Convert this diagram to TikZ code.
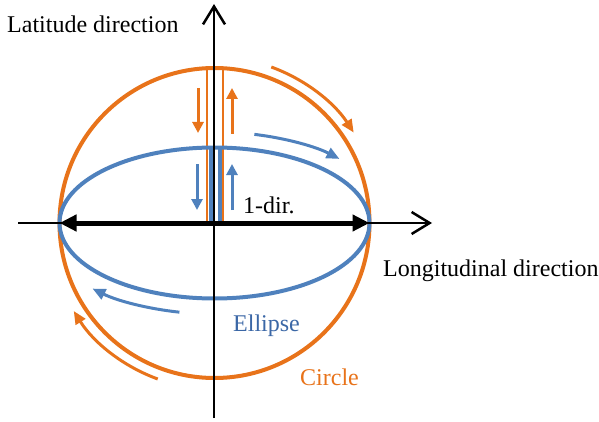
\documentclass[tikz,border=0pt]{standalone}
\usepackage{fontspec}
\newfontfamily\tnr{Liberation Serif}
\usetikzlibrary{arrows.meta}
\definecolor{orng}{HTML}{E8731A}
\definecolor{blu}{HTML}{4F81BD}
\definecolor{blutxt}{HTML}{3B67A6}
\tikzset{
  lbl/.style={anchor=base west, inner sep=0pt, font=\tnr\fontsize{24}{28}\selectfont},
  axisline/.style={line width=2.5pt, -{Straight Barb[length=18pt,width=22pt,line width=2.5pt]}},
  thinv/.style={line width=1.5pt},
  smallarr/.style={line width=3pt, -{Triangle[length=11pt,width=11pt]}},
  curvarr/.style={line width=3pt, -{Triangle[length=13pt,width=11pt]}},
}
\begin{document}
\begin{tikzpicture}[x=1pt,y=1pt]
\useasboundingbox (0,0) rectangle (599,421);
\coordinate (C) at (214.5,198);
% thin vertical lines
\coordinate (o1b) at (207,198); \coordinate (o1t) at (207,352.8);
\coordinate (o2b) at (223,198); \coordinate (o2t) at (223,352.8);
\coordinate (b1b) at (210,198); \coordinate (b1t) at (210,273.4);
\coordinate (b2b) at (212,198); \coordinate (b2t) at (212,273.4);
\coordinate (b3b) at (219,198); \coordinate (b3t) at (219,273.4);
\coordinate (b4b) at (221,198); \coordinate (b4t) at (221,273.4);
\draw[thinv, orng] (o1b) -- (o1t);
\draw[thinv, orng] (o2b) -- (o2t);
\draw[thinv, blu] (b1b) -- (b1t);
\draw[thinv, blu] (b2b) -- (b2t);
\draw[thinv, blu] (b3b) -- (b3t);
\draw[thinv, blu] (b4b) -- (b4t);
% circle and ellipse
\draw[orng, line width=4pt] (C) circle[radius=155];
\draw[blu, line width=4pt] (C) ellipse[x radius=155, y radius=75.5];
% axes
\coordinate (hx0) at (18,198); \coordinate (hx1) at (432,198);
\coordinate (vy0) at (214,3); \coordinate (vy1) at (214,417);
\draw[axisline] (hx0) -- (hx1);
\draw[axisline] (vy0) -- (vy1);
% double arrow
\coordinate (dl) at (59.5,198); \coordinate (dr) at (369.5,198);
\draw[line width=5pt, {Triangle[length=17pt,width=16pt]}-{Triangle[length=17pt,width=16pt]}] (dl) -- (dr);
% small straight arrows
\coordinate (oa1) at (198,333); \coordinate (oa2) at (198,288);
\coordinate (oa3) at (232,287); \coordinate (oa4) at (232,333);
\coordinate (ba1) at (197,257); \coordinate (ba2) at (197,211);
\coordinate (ba3) at (232,211); \coordinate (ba4) at (232,257);
\draw[smallarr, orng] (oa1) -- (oa2);
\draw[smallarr, orng] (oa3) -- (oa4);
\draw[smallarr, blu] (ba1) -- (ba2);
\draw[smallarr, blu] (ba3) -- (ba4);
% curved arrows
\draw[curvarr, orng] (C) ++(70:166) arc[start angle=70, end angle=33, radius=166];
\draw[curvarr, orng] (C) ++(250:166) arc[start angle=250, end angle=212, radius=166];
\draw[curvarr, blu] (C) ++(76.9:176 and 91) arc[start angle=76.9, end angle=44.75, x radius=176, y radius=91];
\draw[curvarr, blu] (C) ++(258.5:176 and 91) arc[start angle=258.5, end angle=226.1, x radius=176, y radius=91];
% labels
\node[lbl] (lat) at (7,388) {Latitude direction};
\node[lbl] (lon) at (383,145) {Longitudinal direction};
\node[lbl] (dir) at (243,208) {1-dir.};
\node[lbl, text=blutxt] (ell) at (233,90) {Ellipse};
\node[lbl, text=orng] (cir) at (300,36) {Circle};
\end{tikzpicture}
\end{document}
